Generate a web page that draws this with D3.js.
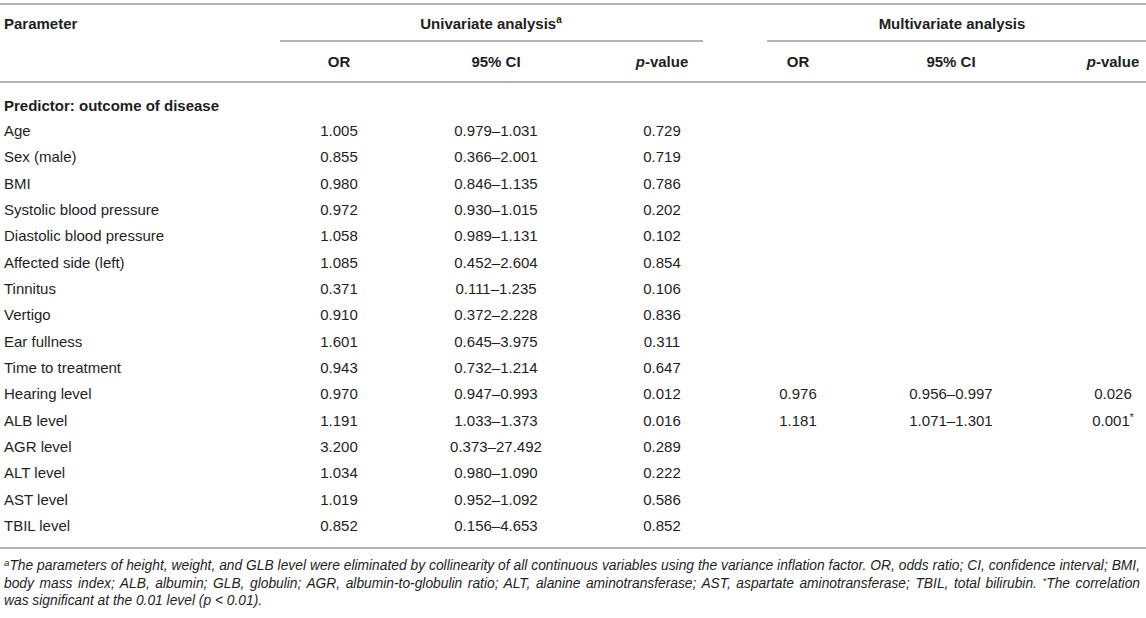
<!DOCTYPE html>
<html>
<head>
<meta charset="utf-8">
<script src="https://cdn.jsdelivr.net/npm/d3@7/dist/d3.min.js"></script>
<style>
  html, body { margin: 0; padding: 0; background: #fff; }
  svg { display: block; font-family: "Liberation Sans", Arial, Helvetica, sans-serif; }
</style>
</head>
<body>
<svg id="chart" width="1146" height="618"></svg>
<script>
// ---- data ----
const parameters = ["Age", "Sex (male)", "BMI", "Systolic blood pressure", "Diastolic blood pressure",
  "Affected side (left)", "Tinnitus", "Vertigo", "Ear fullness", "Time to treatment", "Hearing level",
  "ALB level", "AGR level", "ALT level", "AST level", "TBIL level"];
const uniOR = ["1.005", "0.855", "0.980", "0.972", "1.058", "1.085", "0.371", "0.910", "1.601", "0.943",
  "0.970", "1.191", "3.200", "1.034", "1.019", "0.852"];
const uniCI = ["0.979–1.031", "0.366–2.001", "0.846–1.135", "0.930–1.015", "0.989–1.131", "0.452–2.604",
  "0.111–1.235", "0.372–2.228", "0.645–3.975", "0.732–1.214", "0.947–0.993", "1.033–1.373",
  "0.373–27.492", "0.980–1.090", "0.952–1.092", "0.156–4.653"];
const uniP = ["0.729", "0.719", "0.786", "0.202", "0.102", "0.854", "0.106", "0.836", "0.311", "0.647",
  "0.012", "0.016", "0.289", "0.222", "0.586", "0.852"];
const multiOR = ["", "", "", "", "", "", "", "", "", "", "0.976", "1.181", "", "", "", ""];
const multiCI = ["", "", "", "", "", "", "", "", "", "", "0.956–0.997", "1.071–1.301", "", "", "", ""];
const multiP  = ["", "", "", "", "", "", "", "", "", "", "0.026", "0.001*", "", "", "", ""];
const groupHeaders = ["Univariate analysis", "Multivariate analysis"];
const columnHeaders = ["OR", "95% CI", "p-value", "OR", "95% CI", "p-value"];
const sectionLabel = "Predictor: outcome of disease";
const footnoteLines = [
  "The parameters of height, weight, and GLB level were eliminated by collinearity of all continuous variables using the variance inflation factor. OR, odds ratio; CI, confidence interval; BMI,",
  "body mass index; ALB, albumin; GLB, globulin; AGR, albumin-to-globulin ratio; ALT, alanine aminotransferase; AST, aspartate aminotransferase; TBIL, total bilirubin. *The correlation",
  "was significant at the 0.01 level (p < 0.01)."
];

// ---- layout ----
const W = 1146;
const svg = d3.select("#chart");
const textColor = "#1e1e1e";
const ruleColor = "#b4b4b4";

const colKeys = ["uOR", "uCI", "uP", "mOR", "mCI", "mP"];
const colX = d3.scaleOrdinal().domain(colKeys).range([339, 496, 662, 798, 951, 1113]);
const rowY = d3.scalePoint().domain(parameters).range([136, 531]);

const columns = [uniOR, uniCI, uniP, multiOR, multiCI, multiP];

// rules
function rule(x1, x2, y) {
  svg.append("line").attr("x1", x1).attr("x2", x2).attr("y1", y).attr("y2", y)
    .attr("stroke", ruleColor).attr("stroke-width", 2);
}
rule(0, W, 4);
rule(280, 703, 41);
rule(767, W, 41);
rule(0, W, 82);
rule(0, W, 548);

// top header row
svg.append("text").attr("x", 4).attr("y", 29).attr("font-size", 15).attr("font-weight", "bold")
  .attr("fill", textColor).text("Parameter");

const gh1 = svg.append("text").attr("x", 491).attr("y", 29).attr("font-size", 15)
  .attr("font-weight", "bold").attr("fill", textColor).attr("text-anchor", "middle");
gh1.append("tspan").text(groupHeaders[0]);
gh1.append("tspan").attr("font-size", 10).attr("dy", -6).text("a");

svg.append("text").attr("x", 952).attr("y", 29).attr("font-size", 15).attr("font-weight", "bold")
  .attr("fill", textColor).attr("text-anchor", "middle").text(groupHeaders[1]);

// column headers
columnHeaders.forEach((h, i) => {
  const t = svg.append("text").attr("x", colX(colKeys[i])).attr("y", 67).attr("font-size", 15)
    .attr("font-weight", "bold").attr("fill", textColor).attr("text-anchor", "middle");
  if (h.startsWith("p-")) {
    t.append("tspan").attr("font-style", "italic").text("p");
    t.append("tspan").text(h.slice(1));
  } else {
    t.text(h);
  }
});

// section label
svg.append("text").attr("x", 4).attr("y", 111).attr("font-size", 15).attr("font-weight", "bold")
  .attr("fill", textColor).text(sectionLabel);

// body rows
svg.append("g").selectAll("text").data(parameters).join("text")
  .attr("x", 4).attr("y", d => rowY(d)).attr("font-size", 15).attr("fill", textColor).text(d => d);

columns.forEach((col, ci) => {
  svg.append("g").selectAll("text").data(col).join("text")
    .attr("x", colX(colKeys[ci])).attr("y", (d, i) => rowY(parameters[i]))
    .attr("font-size", 15).attr("fill", textColor).attr("text-anchor", "middle")
    .each(function(d) {
      const sel = d3.select(this);
      if (d.endsWith("*")) {
        sel.append("tspan").text(d.slice(0, -1));
        sel.append("tspan").attr("font-size", 10).attr("dy", -5).text("*");
      } else {
        sel.text(d);
      }
    });
});

// footnote
const fnY = [570, 588, 605];
const target = 1140 - 4;
// measure first line to choose a font size that fills the width naturally
const probe = svg.append("text").attr("font-size", 12).attr("font-style", "italic").text(footnoteLines[0]);
const fnSize = Math.min(14, 12 * (target - 7) / probe.node().getComputedTextLength());
probe.remove();

footnoteLines.forEach((line, i) => {
  const t = svg.append("text").attr("x", 4).attr("y", fnY[i]).attr("font-size", fnSize)
    .attr("font-style", "italic").attr("fill", textColor);
  if (i === 0) {
    t.append("tspan").attr("font-size", fnSize * 0.7).attr("dy", -4).text("a");
    t.append("tspan").attr("dy", 4).text(line);
  } else if (i === 1) {
    const idx = line.indexOf("*");
    t.append("tspan").text(line.slice(0, idx));
    t.append("tspan").attr("font-size", fnSize * 0.7).attr("dy", -4).text("*");
    t.append("tspan").attr("dy", 4).text(line.slice(idx + 1));
  } else {
    t.text(line);
  }
  if (i < 2) {
    const natural = t.node().getComputedTextLength();
    const spaces = (line.match(/ /g) || []).length;
    if (spaces > 0) t.attr("word-spacing", Math.max(0, (target - natural) / spaces));
  }
});
</script>
</body>
</html>
